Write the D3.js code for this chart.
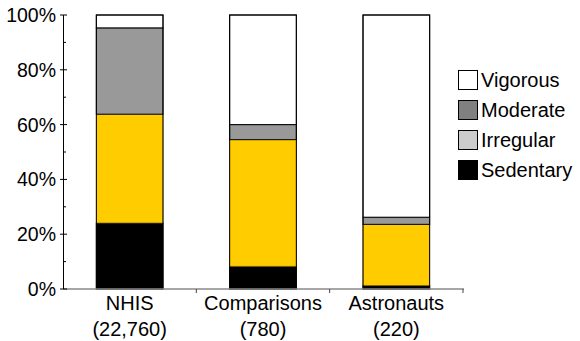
<!DOCTYPE html>
<html><head><meta charset="utf-8">
<script src="https://cdn.jsdelivr.net/npm/d3@7"></script>
<style>body{margin:0;background:#fff}text{font-family:"Liberation Sans",Arial,Helvetica,sans-serif}</style>
</head><body><svg id="c" width="580" height="341"></svg>
<script>
const groups = ["NHIS", "Comparisons", "Astronauts"];
const groupCounts = ["(22,760)", "(780)", "(220)"];
const seriesNames = ["Sedentary", "Irregular", "Moderate", "Vigorous"];
const sedentary = [24.1, 8.3, 1.3];
const irregular = [39.7, 46.2, 22.3];
const moderate = [31.5, 5.5, 2.6];
const vigorous = [4.7, 40.0, 73.8];
const barColors = ["#000000", "#FFCC00", "#999999", "#FFFFFF"];
const legendNames = ["Vigorous", "Moderate", "Irregular", "Sedentary"];
const legendColors = ["#FFFFFF", "#808080", "#CCCCCC", "#000000"];
const yTicks = [0, 20, 40, 60, 80, 100];
const yMinorTicks = [10, 30, 50, 70, 90];

const svg = d3.select("#c");
const x = d3.scaleBand().domain(groups).range([63, 463]).paddingInner(0.5).paddingOuter(0.25);
const y = d3.scaleLinear().domain([0, 100]).range([289, 15]);

const rows = groups.map((g, i) => ({g, Sedentary: sedentary[i], Irregular: irregular[i], Moderate: moderate[i], Vigorous: vigorous[i]}));
const stacked = d3.stack().keys(seriesNames)(rows);

stacked.forEach((s, si) => {
  svg.append("g").selectAll("rect").data(s).join("rect")
    .attr("x", d => x(d.data.g))
    .attr("width", x.bandwidth())
    .attr("y", d => y(d[1]))
    .attr("height", d => y(d[0]) - y(d[1]))
    .attr("fill", barColors[si])
    .attr("stroke", si === 1 ? "#8a6d00" : "#000")
    .attr("stroke-width", si === 1 ? 0.7 : 1);
});
svg.append("g").selectAll("rect").data(groups).join("rect")
  .attr("x", d => x(d)).attr("width", x.bandwidth())
  .attr("y", y(100)).attr("height", y(0) - y(100))
  .attr("fill", "none").attr("stroke", "#000").attr("stroke-width", 1);

// x axis
const xa = svg.append("g");
xa.append("line").attr("x1", 63).attr("x2", 464).attr("y1", 289).attr("y2", 289)
  .attr("stroke", "#888").attr("stroke-width", 1.5);
const bounds = [x.step(), 2 * x.step(), 3 * x.step()].map(v => 63 + v);
xa.selectAll("line.t").data(bounds).join("line").attr("class", "t")
  .attr("x1", d => d).attr("x2", d => d).attr("y1", 289).attr("y2", 293)
  .attr("stroke", "#444").attr("stroke-width", 1);
xa.selectAll("text.n").data(groups).join("text").attr("class", "n")
  .attr("x", d => x(d) + x.bandwidth() / 2).attr("y", 310)
  .attr("text-anchor", "middle").attr("font-size", 20).text(d => d);
xa.selectAll("text.c").data(groupCounts).join("text").attr("class", "c")
  .attr("x", (d, i) => x(groups[i]) + x.bandwidth() / 2).attr("y", 336)
  .attr("text-anchor", "middle").attr("font-size", 20).text(d => d);

// y axis
const ya = svg.append("g");
ya.append("line").attr("x1", 63.5).attr("x2", 63.5).attr("y1", y(100)).attr("y2", y(0))
  .attr("stroke", "#000").attr("stroke-width", 1);
ya.selectAll("line.M").data(yTicks).join("line").attr("class", "M")
  .attr("x1", 60).attr("x2", 67).attr("y1", d => y(d)).attr("y2", d => y(d))
  .attr("stroke", "#000");
ya.selectAll("line.m").data(yMinorTicks).join("line").attr("class", "m")
  .attr("x1", 63.5).attr("x2", 66).attr("y1", d => y(d)).attr("y2", d => y(d))
  .attr("stroke", "#000");
ya.selectAll("text").data(yTicks).join("text")
  .attr("x", 56).attr("y", d => y(d) + 7).attr("text-anchor", "end")
  .attr("font-size", 19.5).text(d => d + "%");

// legend
const lg = svg.append("g");
legendNames.forEach((n, i) => {
  const cy = 80 + i * 30;
  lg.append("rect").attr("x", 458.5).attr("y", cy - 9.5).attr("width", 19).attr("height", 19)
    .attr("fill", legendColors[i]).attr("stroke", "#000").attr("stroke-width", 1);
  lg.append("text").attr("x", 481).attr("y", cy + 7).attr("font-size", 20).text(n);
});
</script></body></html>
